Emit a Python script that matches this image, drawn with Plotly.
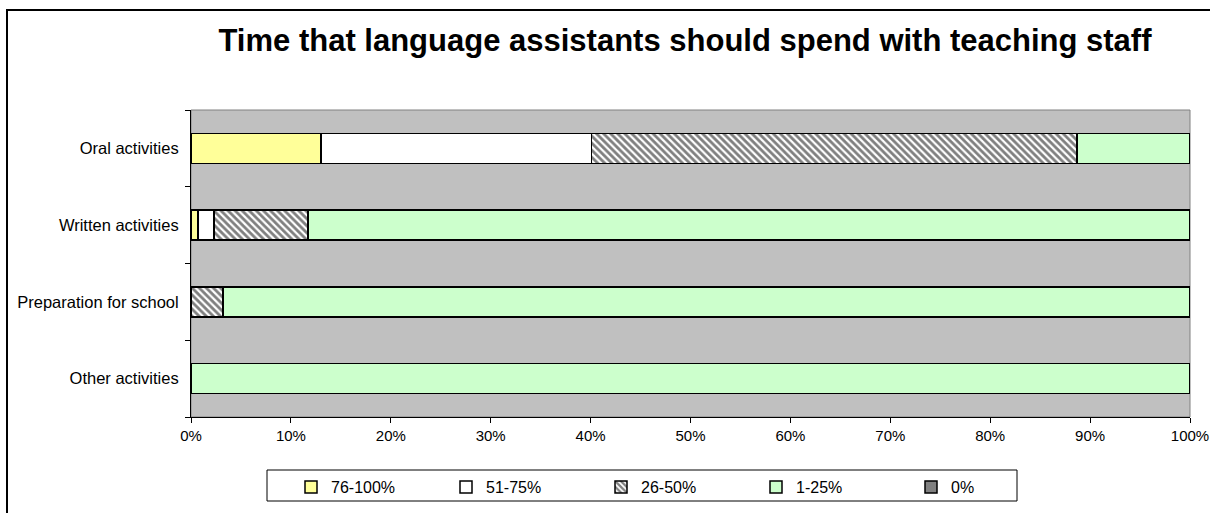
import plotly.graph_objects as go

categories = ["Oral activities", "Written activities", "Preparation for school", "Other activities"]
series_names = ["76-100%", "51-75%", "26-50%", "1-25%", "0%"]
v_76_100 = [13.0, 0.7, 0.0, 0.0]
v_51_75 = [27.1, 1.6, 0.0, 0.0]
v_26_50 = [48.6, 9.4, 3.2, 0.0]
v_1_25 = [11.3, 88.3, 96.8, 100.0]
v_0 = [0.0, 0.0, 0.0, 0.0]
x_ticks = [0, 10, 20, 30, 40, 50, 60, 70, 80, 90, 100]
x_tick_labels = [f"{t}%" for t in x_ticks]

values = [v_76_100, v_51_75, v_26_50, v_1_25, v_0]
colors = ["#FFFF99", "#FFFFFF", "#FFFFFF", "#CCFFCC", "#808080"]
patterns = ["", "", "\\", "", ""]

W, H = 1210, 513
L, R, T, B = 191, 20, 110, 96
pw = W - L - R
ph = H - T - B

def px_x(x):
    return (x - L) / pw

def px_y(y):
    return (H - B - y) / ph

FONT = "Arial, Liberation Sans"

fig = go.Figure()
for name, vals, col, pat in zip(series_names, values, colors, patterns):
    marker = dict(color=col, line=dict(color="black", width=1.5))
    if pat:
        marker["pattern"] = dict(shape=pat, fgcolor="black", bgcolor="white", size=5, solidity=0.55)
    fig.add_trace(go.Bar(
        y=categories, x=vals, name=name, orientation="h", marker=marker,
    ))

fig.update_layout(
    width=W, height=H,
    margin=dict(l=L, r=R, t=T, b=B, autoexpand=False),
    barmode="stack",
    bargap=0.61,
    paper_bgcolor="white",
    plot_bgcolor="#C0C0C0",
    font=dict(family=FONT, size=16, color="black"),
    title=dict(
        text="<b>Time that language assistants should spend with teaching staff</b>",
        x=px_x(685), xref="paper", xanchor="center",
        y=1 - 40 / H, yref="container", yanchor="middle",
        font=dict(size=31, family=FONT, color="black"),
    ),
    xaxis=dict(
        range=[0, 100], tickvals=x_ticks, ticktext=x_tick_labels,
        showgrid=False, zeroline=False,
        showline=True, linecolor="black", linewidth=1,
        ticks="outside", ticklen=5, tickcolor="black",
        tickfont=dict(size=15),
        mirror=False, fixedrange=True,
    ),
    yaxis=dict(
        categoryorder="array", categoryarray=categories[::-1],
        showgrid=False, zeroline=False,
        showline=True, linecolor="black", linewidth=1,
        ticks="outside", ticklen=5, tickcolor="black", tickson="boundaries",
        tickfont=dict(size=16.5),
        ticklabelstandoff=8,
        fixedrange=True,
    ),
    legend=dict(
        orientation="h",
        x=px_x(291), xanchor="left",
        y=px_y(470), yanchor="top",
        borderwidth=0,
        bgcolor="rgba(0,0,0,0)",
        entrywidth=110, entrywidthmode="pixels",
        font=dict(size=16),
        traceorder="normal",
        itemclick=False, itemdoubleclick=False,
    ),
    showlegend=True,
    hovermode=False,
)

# plot area outline (gray)
fig.add_shape(type="rect", xref="paper", yref="paper", x0=0, y0=0, x1=1, y1=1,
              line=dict(color="#808080", width=1), layer="below")
# legend box
fig.add_shape(type="rect", xref="paper", yref="paper",
              x0=px_x(267), y0=px_y(501), x1=px_x(1017), y1=px_y(470),
              line=dict(color="black", width=1))
# outer chart border
fig.add_shape(type="rect", xref="paper", yref="paper",
              x0=px_x(7), y0=px_y(530), x1=px_x(1225), y1=px_y(10),
              line=dict(color="black", width=2))

fig.write_html("out.html", config={"displayModeBar": False},
               post_script="document.body.style.margin='0px';")
